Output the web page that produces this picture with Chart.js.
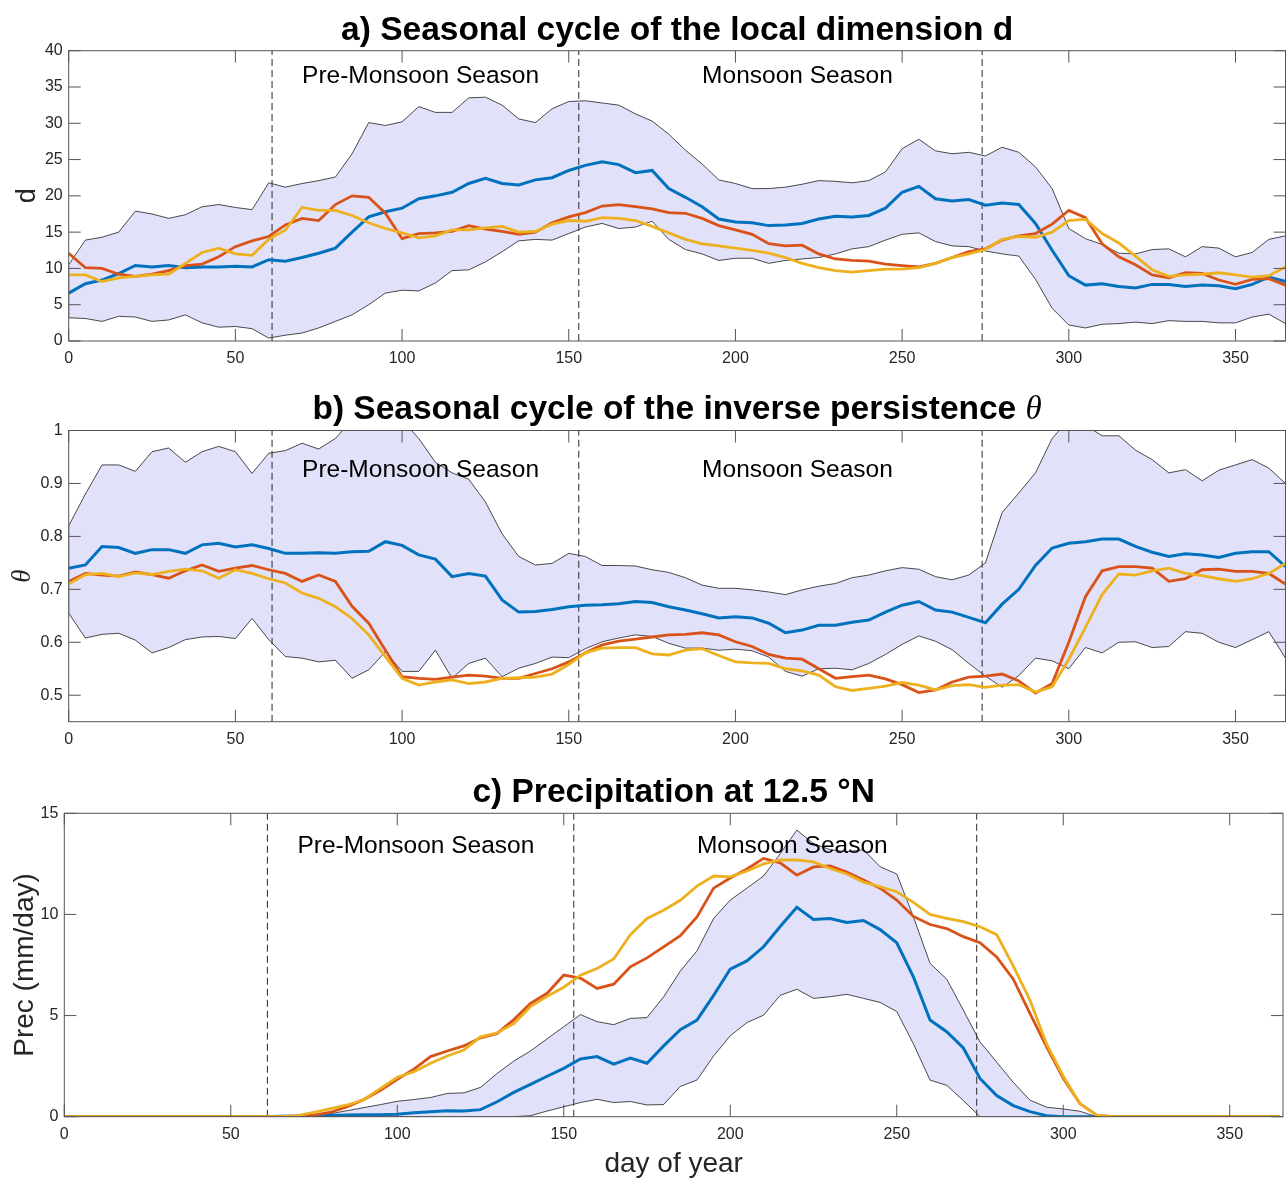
<!DOCTYPE html>
<html>
<head>
<meta charset="utf-8">
<script src="https://cdn.jsdelivr.net/npm/chart.js@4.4.1/dist/chart.umd.min.js"></script>
<style>
    body { margin: 0; background: #ffffff; }
    #wrap { position: relative; width: 1287px; height: 1179px; }
    #wrap canvas { position: absolute; left: 0; }
</style>
</head>
<body>
<div id="wrap">
    <canvas id="dimChart" width="1287" height="385" style="top:0px;width:1287px;height:385px"></canvas>
    <canvas id="thetaChart" width="1287" height="380" style="top:385px;width:1287px;height:380px"></canvas>
    <canvas id="precChart" width="1287" height="414" style="top:765px;width:1287px;height:414px"></canvas>
</div>
<script>
// day of year (every 5th day)
const days = [0, 5, 10, 15, 20, 25, 30, 35, 40, 45,
    50, 55, 60, 65, 70, 75, 80, 85, 90, 95,
    100, 105, 110, 115, 120, 125, 130, 135, 140, 145,
    150, 155, 160, 165, 170, 175, 180, 185, 190, 195,
    200, 205, 210, 215, 220, 225, 230, 235, 240, 245,
    250, 255, 260, 265, 270, 275, 280, 285, 290, 295,
    300, 305, 310, 315, 320, 325, 330, 335, 340, 345,
    350, 355, 360, 365];

// season boundaries (day of year)
const seasonBounds = [61, 153, 274];
const seasonNames = ["Pre-Monsoon Season", "Monsoon Season"];
const seasonNameDays = [70, 190];

// a) local dimension d
const dimUpper = [10.5, 13.9, 14.3, 15.0, 17.9, 17.5, 16.9, 17.4, 18.5, 18.8,
    18.4, 18.1, 21.8, 21.2, 21.7, 22.1, 22.6, 25.8, 30.1, 29.7,
    30.2, 32.3, 31.5, 31.5, 33.5, 33.6, 32.5, 30.6, 30.1, 32.0,
    33.0, 33.1, 32.8, 32.5, 31.3, 30.3, 28.5, 26.3, 24.4, 22.2,
    21.7, 21.0, 21.0, 21.2, 21.6, 22.1, 22.0, 21.8, 22.1, 23.3,
    26.5, 27.8, 26.2, 25.8, 26.0, 25.5, 26.7, 26.0, 24.0, 21.0,
    15.5, 14.1, 13.3, 12.1, 12.0, 12.6, 12.7, 11.6, 13.0, 12.8,
    11.6, 12.2, 14.0, 14.5];
const dimLower = [3.2, 3.1, 2.7, 3.4, 3.3, 2.7, 2.9, 3.6, 2.5, 1.9,
    2.0, 1.7, 0.4, 0.8, 1.1, 1.8, 2.7, 3.6, 5.0, 6.6,
    7.0, 6.9, 8.0, 9.7, 9.8, 10.9, 12.3, 13.8, 14.0, 13.9,
    14.8, 15.7, 16.2, 15.5, 15.7, 16.5, 14.0, 12.6, 12.0, 11.1,
    11.4, 11.4, 10.7, 11.1, 11.3, 11.5, 12.0, 12.7, 13.0, 13.9,
    14.7, 14.9, 13.7, 13.1, 13.0, 12.4, 12.0, 11.7, 8.5, 4.5,
    2.2, 1.8, 2.3, 2.4, 2.6, 2.4, 2.8, 2.7, 2.7, 2.5,
    2.5, 3.3, 3.7, 2.4];
const dimBlue = [6.6, 7.9, 8.4, 9.3, 10.4, 10.2, 10.4, 10.1, 10.2, 10.2,
    10.3, 10.2, 11.2, 11.0, 11.5, 12.1, 12.8, 15.0, 17.1, 17.8,
    18.3, 19.6, 20.0, 20.5, 21.7, 22.4, 21.7, 21.5, 22.2, 22.5,
    23.5, 24.2, 24.7, 24.3, 23.2, 23.5, 21.0, 19.8, 18.5, 16.8,
    16.4, 16.3, 15.9, 16.0, 16.2, 16.8, 17.2, 17.1, 17.3, 18.3,
    20.5, 21.3, 19.6, 19.3, 19.5, 18.7, 19.0, 18.8, 16.2, 12.5,
    9.0, 7.7, 7.9, 7.5, 7.3, 7.8, 7.8, 7.5, 7.7, 7.6,
    7.2, 7.8, 8.8, 8.2];
const dimRed = [12.1, 10.1, 10.0, 9.2, 8.9, 9.2, 9.7, 10.4, 10.6, 11.6,
    13.0, 13.8, 14.4, 16.0, 16.9, 16.6, 18.8, 20.0, 19.8, 17.6,
    14.1, 14.8, 14.9, 15.1, 15.9, 15.4, 15.1, 14.7, 15.0, 16.3,
    17.1, 17.7, 18.6, 18.8, 18.5, 18.2, 17.7, 17.6, 16.9, 15.9,
    15.3, 14.7, 13.4, 13.1, 13.2, 12.0, 11.3, 11.1, 11.0, 10.6,
    10.4, 10.2, 10.7, 11.5, 12.3, 12.7, 13.9, 14.5, 14.8, 16.1,
    18.0, 17.0, 13.4, 11.6, 10.5, 9.1, 8.7, 9.4, 9.3, 8.4,
    7.8, 8.5, 8.6, 7.7];
const dimYellow = [9.1, 9.1, 8.2, 8.7, 8.9, 9.1, 9.2, 10.7, 12.2, 12.8,
    12.0, 11.8, 14.0, 15.3, 18.4, 18.0, 18.0, 17.3, 16.3, 15.5,
    14.9, 14.2, 14.5, 15.3, 15.3, 15.6, 15.8, 15.0, 15.1, 16.1,
    16.6, 16.5, 17.0, 16.9, 16.6, 15.8, 14.9, 14.0, 13.4, 13.1,
    12.8, 12.5, 12.1, 11.5, 10.7, 10.1, 9.7, 9.5, 9.7, 9.9,
    9.9, 10.1, 10.7, 11.5, 12.0, 12.6, 14.0, 14.4, 14.3, 15.0,
    16.6, 16.8, 14.8, 13.5, 11.7, 9.8, 8.9, 9.1, 9.2, 9.4,
    9.1, 8.8, 9.0, 10.2];

// b) inverse persistence theta
const thetaUpper = [0.82, 0.88, 0.935, 0.935, 0.923, 0.96, 0.967, 0.94, 0.96, 0.97,
    0.96, 0.919, 0.957, 0.962, 0.976, 0.965, 0.985, 1.02, 1.03, 1.01,
    1.02, 0.985, 0.94, 0.92, 0.908, 0.865, 0.805, 0.762, 0.746, 0.749,
    0.768, 0.762, 0.745, 0.745, 0.744, 0.737, 0.732, 0.722, 0.708, 0.702,
    0.702, 0.699, 0.695, 0.69, 0.699, 0.706, 0.711, 0.722, 0.727, 0.735,
    0.741, 0.738, 0.724, 0.718, 0.727, 0.75, 0.845, 0.882, 0.92, 0.985,
    1.02, 1.01, 0.99, 0.99, 0.963, 0.945, 0.92, 0.926, 0.905, 0.925,
    0.935, 0.945, 0.929, 0.9];
const thetaLower = [0.655, 0.608, 0.615, 0.617, 0.604, 0.58, 0.59, 0.605, 0.61, 0.611,
    0.607, 0.645, 0.605, 0.573, 0.57, 0.563, 0.566, 0.532, 0.548, 0.582,
    0.545, 0.545, 0.585, 0.532, 0.56, 0.57, 0.535, 0.551, 0.56, 0.572,
    0.571, 0.588, 0.601, 0.608, 0.614, 0.611, 0.598, 0.589, 0.589, 0.585,
    0.587, 0.584, 0.572, 0.545, 0.536, 0.55, 0.551, 0.548, 0.56, 0.577,
    0.596, 0.612, 0.602, 0.586, 0.56, 0.536, 0.515, 0.537, 0.57, 0.565,
    0.55, 0.59, 0.58, 0.6, 0.601, 0.59, 0.592, 0.62, 0.617, 0.6,
    0.59, 0.605, 0.62, 0.57];
const thetaBlue = [0.74, 0.746, 0.781, 0.779, 0.768, 0.775, 0.775, 0.768, 0.784, 0.787,
    0.78, 0.784, 0.777, 0.768, 0.768, 0.769, 0.768, 0.771, 0.772, 0.79,
    0.783, 0.765, 0.757, 0.724, 0.73, 0.725, 0.68, 0.657, 0.658, 0.662,
    0.667, 0.67, 0.671, 0.673, 0.677, 0.675, 0.667, 0.661, 0.654, 0.646,
    0.648, 0.646, 0.636, 0.618, 0.623, 0.632, 0.632, 0.638, 0.642, 0.657,
    0.67, 0.677, 0.661, 0.657, 0.647, 0.637, 0.672, 0.70, 0.745, 0.778,
    0.787, 0.79, 0.795, 0.795, 0.781, 0.77, 0.762, 0.767, 0.765, 0.76,
    0.768, 0.771, 0.771, 0.743];
const thetaRed = [0.715, 0.73, 0.727, 0.725, 0.733, 0.728, 0.721, 0.735, 0.746, 0.734,
    0.74, 0.745, 0.737, 0.73, 0.715, 0.727, 0.715, 0.668, 0.636, 0.585,
    0.535, 0.532, 0.53, 0.534, 0.538, 0.536, 0.532, 0.532, 0.541, 0.55,
    0.563, 0.58, 0.595, 0.602, 0.606, 0.61, 0.614, 0.615, 0.618, 0.614,
    0.601, 0.592, 0.577, 0.57, 0.568, 0.55, 0.532, 0.535, 0.538, 0.531,
    0.52, 0.505, 0.51, 0.525, 0.534, 0.536, 0.54, 0.527, 0.504, 0.522,
    0.6, 0.686, 0.735, 0.743, 0.743, 0.74, 0.715, 0.72, 0.737, 0.738,
    0.734, 0.734, 0.73, 0.71];
const thetaYellow = [0.71, 0.728, 0.73, 0.724, 0.731, 0.728, 0.734, 0.738, 0.735, 0.721,
    0.737, 0.73, 0.72, 0.712, 0.693, 0.683, 0.667, 0.645, 0.614, 0.573,
    0.532, 0.519, 0.525, 0.529, 0.522, 0.525, 0.532, 0.533, 0.534, 0.54,
    0.558, 0.58, 0.589, 0.59, 0.59, 0.578, 0.576, 0.585, 0.588, 0.575,
    0.563, 0.561, 0.56, 0.55, 0.546, 0.538, 0.516, 0.509, 0.513, 0.517,
    0.524, 0.519, 0.51, 0.518, 0.52, 0.515, 0.519, 0.52, 0.506, 0.516,
    0.568, 0.628, 0.69, 0.729, 0.727, 0.735, 0.74, 0.73, 0.726, 0.72,
    0.715, 0.72, 0.73, 0.749];

// c) precipitation at 12.5 N (mm/day)
const precUpper = [0, 0, 0, 0, 0, 0, 0, 0, 0, 0,
    0, 0, 0, 0, 0.02, 0.08, 0.15, 0.3, 0.45, 0.6,
    0.76, 0.85, 0.95, 1.15, 1.18, 1.45, 2.14, 2.75, 3.25, 3.85,
    4.45, 5.05, 4.7, 4.55, 4.86, 4.9, 5.93, 7.2, 8.2, 9.8,
    10.71, 11.3, 11.9, 13.0, 14.17, 13.5, 13.2, 13.1, 13.2, 12.36,
    12.0, 9.88, 7.58, 6.8, 5.27, 3.7, 2.7, 1.7, 0.82, 0.47,
    0.38, 0.27, 0, 0, 0, 0, 0, 0, 0, 0,
    0, 0, 0, 0];
const precLower = [0, 0, 0, 0, 0, 0, 0, 0, 0, 0,
    0, 0, 0, 0, 0, 0, 0, 0, 0, 0,
    0, 0, 0, 0, 0, 0, 0, 0, 0.05, 0.28,
    0.49, 0.7, 0.86, 0.7, 0.75, 0.58, 0.6, 1.5, 1.81, 3.0,
    4.0, 4.65, 5.02, 6.0, 6.3, 5.85, 5.93, 6.05, 5.85, 5.65,
    5.2, 3.6, 1.81, 1.55, 0.8, 0, 0, 0, 0, 0,
    0, 0, 0, 0, 0, 0, 0, 0, 0, 0,
    0, 0, 0, 0];
const precBlue = [0, 0, 0, 0, 0, 0, 0, 0, 0, 0,
    0, 0, 0, 0.02, 0.04, 0.05, 0.06, 0.08, 0.1, 0.1,
    0.12, 0.2, 0.25, 0.3, 0.28, 0.35, 0.74, 1.2, 1.6, 2.0,
    2.39, 2.85, 2.97, 2.6, 2.9, 2.64, 3.5, 4.3, 4.78, 6.0,
    7.3, 7.7, 8.4, 9.4, 10.35, 9.75, 9.8, 9.6, 9.7, 9.25,
    8.6, 6.92, 4.78, 4.2, 3.4, 1.89, 1.05, 0.55, 0.25, 0.05,
    0, 0, 0, 0, 0, 0, 0, 0, 0, 0,
    0, 0, 0, 0];
const precRed = [0, 0, 0, 0, 0, 0, 0, 0, 0, 0,
    0, 0, 0, 0, 0.02, 0.08, 0.22, 0.5, 0.85, 1.3,
    1.85, 2.35, 2.97, 3.25, 3.5, 3.9, 4.12, 4.8, 5.6, 6.1,
    7.0, 6.85, 6.34, 6.55, 7.41, 7.85, 8.4, 8.95, 9.88, 11.3,
    11.8, 12.25, 12.77, 12.55, 11.94, 12.35, 12.4, 12.1, 11.7, 11.3,
    10.71, 9.9, 9.5, 9.3, 8.9, 8.6, 7.9, 6.8, 5.11, 3.45,
    1.9, 0.65, 0.08, 0, 0, 0, 0, 0, 0, 0,
    0, 0, 0, 0];
const precYellow = [0, 0, 0, 0, 0, 0, 0, 0, 0, 0,
    0, 0, 0, 0, 0.05, 0.22, 0.4, 0.58, 0.85, 1.4,
    1.95, 2.22, 2.64, 3.0, 3.3, 3.95, 4.15, 4.6, 5.44, 5.95,
    6.4, 7.0, 7.33, 7.8, 9.0, 9.8, 10.21, 10.7, 11.4, 11.9,
    11.86, 12.15, 12.5, 12.7, 12.69, 12.6, 12.27, 12.0, 11.6, 11.37,
    11.12, 10.6, 10.0, 9.8, 9.64, 9.39, 9.0, 7.45, 5.77, 3.6,
    2.0, 0.65, 0.08, 0, 0, 0, 0, 0, 0, 0,
    0, 0, 0, 0];

const sansFont = '"Liberation Sans", Arial, Helvetica, sans-serif';
const serifFont = '"Liberation Serif", "DejaVu Serif", serif';
Chart.defaults.font.family = sansFont;

function toPoints(values) {
    return days.map((d, i) => ({ x: d, y: values[i] }));
}

// closed outline of the spread band: upper edge forward, lower edge back
function bandPolygon(upper, lower) {
    let pts = toPoints(upper);
    let back = toPoints(lower).reverse();
    return pts.concat(back, [pts[0]]);
}

//draws the matlab style box, inward ticks, titles and season names
const panelDecor = {
    id: "panelDecor",
    afterDatasetsDraw(chart, args, opts) {
        const ctx = chart.ctx;
        const area = chart.chartArea;
        const xs = chart.scales.x;
        const ys = chart.scales.y;
        const tickLen = 12;
        ctx.save();

        ctx.strokeStyle = "#555555";
        ctx.lineWidth = 1;
        ctx.strokeRect(area.left, area.top, area.right - area.left, area.bottom - area.top);
        ctx.beginPath();
        xs.ticks.forEach(t => {
            let px = xs.getPixelForValue(t.value);
            ctx.moveTo(px, area.bottom);
            ctx.lineTo(px, area.bottom - tickLen);
            ctx.moveTo(px, area.top);
            ctx.lineTo(px, area.top + tickLen);
        });
        ys.ticks.forEach(t => {
            let py = ys.getPixelForValue(t.value);
            ctx.moveTo(area.left, py);
            ctx.lineTo(area.left + tickLen, py);
            ctx.moveTo(area.right, py);
            ctx.lineTo(area.right - tickLen, py);
        });
        ctx.stroke();

        // season names
        ctx.fillStyle = "#000000";
        ctx.font = "24.5px " + sansFont;
        ctx.textAlign = "left";
        ctx.textBaseline = "alphabetic";
        seasonNames.forEach((name, i) => {
            ctx.fillText(name, xs.getPixelForValue(seasonNameDays[i]), ys.getPixelForValue(opts.nameY));
        });

        // panel title, made of parts so that symbols can be italic
        let cx = (area.left + area.right) / 2;
        let total = 0;
        opts.title.forEach(part => {
            ctx.font = part.font;
            total += ctx.measureText(part.text).width;
        });
        let tx = cx - total / 2;
        opts.title.forEach(part => {
            ctx.font = part.font;
            ctx.fillText(part.text, tx, opts.titleY);
            tx += ctx.measureText(part.text).width;
        });

        // y axis title
        ctx.save();
        ctx.translate(opts.yTitleX, (area.top + area.bottom) / 2);
        ctx.rotate(-Math.PI / 2);
        ctx.textAlign = "center";
        ctx.font = opts.yTitleFont;
        ctx.fillStyle = "#262626";
        ctx.fillText(opts.yTitle, 0, 0);
        ctx.restore();

        if (opts.xTitle) {
            ctx.textAlign = "center";
            ctx.font = "28px " + sansFont;
            ctx.fillStyle = "#262626";
            ctx.fillText(opts.xTitle, cx, opts.xTitleY);
        }
        ctx.restore();
    }
};

function makePanel(canvasId, cfg) {
    const lineStyle = (color, width) => ({
        borderColor: color,
        borderWidth: width,
        pointRadius: 0,
        fill: false,
        tension: 0
    });

    let datasets = [
        Object.assign({ label: "yellow", data: toPoints(cfg.yellow), order: 1 }, lineStyle("#EDB120", 2.8)),
        Object.assign({ label: "red", data: toPoints(cfg.red), order: 2 }, lineStyle("#D95319", 2.8)),
        Object.assign({ label: "mean", data: toPoints(cfg.blue), order: 3 }, lineStyle("#0072BD", 3))
    ];
    seasonBounds.forEach(d => {
        datasets.push({
            label: "season " + d,
            data: [{ x: d, y: cfg.yMin }, { x: d, y: cfg.yMax }],
            borderColor: "#3a3a3a",
            borderWidth: 1.1,
            borderDash: [7, 4],
            pointRadius: 0,
            fill: false,
            order: 4
        });
    });
    datasets.push({
        label: "spread",
        data: bandPolygon(cfg.upper, cfg.lower),
        borderColor: "#000000",
        borderWidth: 0.7,
        backgroundColor: "rgb(225, 225, 250)",
        pointRadius: 0,
        fill: "shape",
        tension: 0,
        order: 5
    });

    const tickFont = { family: sansFont, size: 16 };
    return new Chart(document.getElementById(canvasId), {
        type: "line",
        data: { datasets: datasets },
        plugins: [panelDecor],
        options: {
            responsive: false,
            animation: false,
            layout: { padding: cfg.padding },
            plugins: {
                legend: { display: false },
                tooltip: { enabled: false },
                panelDecor: cfg.decor
            },
            scales: {
                x: {
                    type: "linear",
                    min: 0,
                    max: cfg.xMax,
                    afterFit(scale) {
                        scale.height = 30;
                        scale.paddingLeft = 0;
                        scale.paddingRight = 0;
                    },
                    ticks: {
                        stepSize: 50,
                        includeBounds: false,
                        padding: 8,
                        color: "#262626",
                        font: tickFont,
                        maxRotation: 0,
                        autoSkip: false
                    },
                    grid: { display: false, drawTicks: false },
                    border: { display: false }
                },
                y: {
                    type: "linear",
                    min: cfg.yMin,
                    max: cfg.yMax,
                    afterFit(scale) {
                        scale.width = cfg.axisLeft;
                        scale.paddingTop = 0;
                        scale.paddingBottom = 0;
                    },
                    ticks: {
                        stepSize: cfg.yStep,
                        includeBounds: false,
                        padding: 6,
                        color: "#262626",
                        font: tickFont,
                        // matlab style: 1 instead of 1.0
                        callback: value => String(Number(value.toFixed(2)))
                    },
                    grid: { display: false, drawTicks: false },
                    border: { display: false }
                }
            }
        }
    });
}

makePanel("dimChart", {
    upper: dimUpper, lower: dimLower, blue: dimBlue, red: dimRed, yellow: dimYellow,
    xMax: 365, yMin: 0, yMax: 40, yStep: 5, axisLeft: 68.7,
    padding: { top: 50.7, right: 1.5, bottom: 14, left: 0 },
    decor: {
        title: [{ text: "a) Seasonal cycle of the local dimension d", font: "bold 33.5px " + sansFont }],
        titleY: 39.5,
        nameY: 35.6,
        yTitle: "d",
        yTitleFont: "27px " + sansFont,
        yTitleX: 35
    }
});

makePanel("thetaChart", {
    upper: thetaUpper, lower: thetaLower, blue: thetaBlue, red: thetaRed, yellow: thetaYellow,
    xMax: 365, yMin: 0.45, yMax: 1, yStep: 0.1, axisLeft: 68.7,
    padding: { top: 45.5, right: 1.5, bottom: 13.3, left: 0 },
    decor: {
        title: [
            { text: "b) Seasonal cycle of the inverse persistence ", font: "bold 33.5px " + sansFont },
            { text: "\u03B8", font: "italic 33px " + serifFont }
        ],
        titleY: 33.5,
        nameY: 0.912,
        yTitle: "\u03B8",
        yTitleFont: "italic 27px " + serifFont,
        yTitleX: 30
    }
});

makePanel("precChart", {
    upper: precUpper, lower: precLower, blue: precBlue, red: precRed, yellow: precYellow,
    xMax: 366, yMin: 0, yMax: 15, yStep: 5, axisLeft: 64.3,
    padding: { top: 48.3, right: 4, bottom: 32.3, left: 0 },
    decor: {
        title: [{ text: "c) Precipitation at 12.5 \u00B0N", font: "bold 33.5px " + sansFont }],
        titleY: 37,
        nameY: 13.05,
        yTitle: "Prec (mm/day)",
        yTitleFont: "28px " + sansFont,
        yTitleX: 33,
        xTitle: "day of year",
        xTitleY: 406.7
    }
});
</script>
</body>
</html>
